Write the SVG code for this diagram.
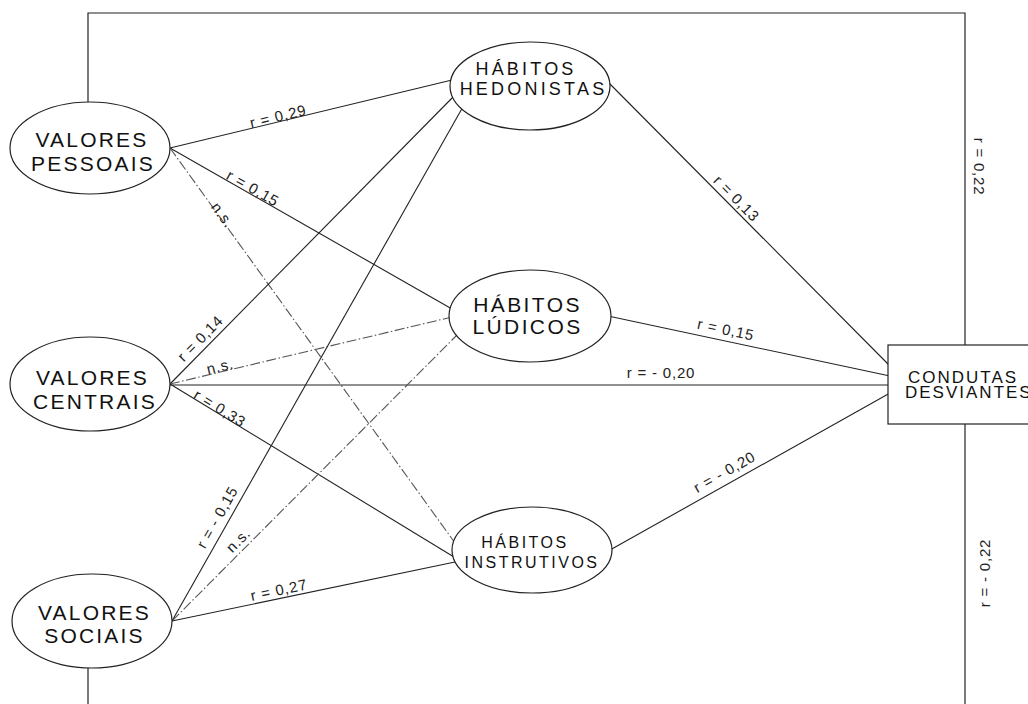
<svg xmlns="http://www.w3.org/2000/svg" width="1028" height="704" viewBox="0 0 1028 704">
<style>
.frame{stroke:#222;stroke-width:1.2;fill:none}
.edge{stroke:#222;stroke-width:1.1;fill:none}
.ns{stroke:#555;stroke-width:1.1;fill:none;stroke-dasharray:10 2.5 1.5 2.5}
.node{fill:#fff;stroke:#222;stroke-width:1.2}
.lbl{font-family:"Liberation Sans",Arial,sans-serif;font-size:15px;letter-spacing:0.8px;fill:#222;text-anchor:middle;dominant-baseline:central}
.t{font-family:"Liberation Sans",Arial,sans-serif;fill:#111;text-anchor:middle}
.big{font-size:21px;letter-spacing:2.2px}
</style>
<g id="connectors">
  <polyline class="frame" points="88,102 88,13 965,13 965,345"/>
  <line class="frame" x1="965" y1="424" x2="965" y2="704"/>
  <line class="frame" x1="88" y1="668" x2="88" y2="704"/>
  <line class="edge" x1="170" y1="148" x2="452" y2="80"/>
  <line class="edge" x1="170" y1="148" x2="452" y2="309"/>
  <line class="ns" x1="170" y1="148" x2="455" y2="543"/>
  <line class="edge" x1="170" y1="384" x2="457" y2="93"/>
  <line class="ns" x1="170" y1="384" x2="452" y2="317"/>
  <line class="edge" x1="170" y1="385" x2="890" y2="385"/>
  <line class="edge" x1="170" y1="384" x2="454" y2="557"/>
  <line class="edge" x1="172" y1="621" x2="464" y2="105"/>
  <line class="ns" x1="172" y1="621" x2="458" y2="334"/>
  <line class="edge" x1="172" y1="621" x2="455" y2="562"/>
  <line class="edge" x1="608" y1="82" x2="890" y2="366"/>
  <line class="edge" x1="608" y1="316" x2="890" y2="376"/>
  <line class="edge" x1="610" y1="550" x2="890" y2="393"/>
  <g>
    <text class="lbl" transform="translate(279.4,121.5) rotate(-13.65)" y="-5.6">r = 0,29</text>
    <text class="lbl" transform="translate(249.7,193.7) rotate(29.83)" y="-6.6">r = 0,15</text>
    <text class="lbl" transform="translate(219.9,217.2) rotate(54.18)" y="-3.8">n.s.</text>
    <text class="lbl" transform="translate(207.8,345.7) rotate(-45.4)" y="-10.9">r = 0,14</text>
    <text class="lbl" transform="translate(227.4,523) rotate(-60.5)" y="-12">r = - 0,15</text>
    <text class="lbl" transform="translate(221.4,371.9) rotate(-13.3)" y="-6">n.s.</text>
    <text class="lbl" transform="translate(661,385)" y="-12.5">r = - 0,20</text>
    <text class="lbl" transform="translate(217.1,412.8) rotate(31.5)" y="-5.6">r = 0,33</text>
    <text class="lbl" transform="translate(245.4,547.4) rotate(-45.1)" y="-10.5">n.s.</text>
    <text class="lbl" transform="translate(280.6,598.5) rotate(-11.7)" y="-9">r = 0,27</text>
    <text class="lbl" transform="translate(729.6,205.3) rotate(45.4)" y="-10">r = 0,13</text>
    <text class="lbl" transform="translate(723.5,340.5) rotate(12.18)" y="-11.5">r = 0,15</text>
    <text class="lbl" transform="translate(730.4,482.6) rotate(-29.3)" y="-12.5">r = - 0,20</text>
    <text class="lbl" transform="translate(979,166.5) rotate(90)">r = 0,22</text>
    <text class="lbl" transform="translate(984,573) rotate(-90)">r = - 0,22</text>
  </g>
</g>
<g id="valores-pessoais">
  <ellipse class="node" cx="90" cy="148" rx="80" ry="46"/>
  <text class="t big" x="92" y="147">VALORES</text>
  <text class="t big" x="93" y="171">PESSOAIS</text>
</g>
<g id="valores-centrais">
  <ellipse class="node" cx="90" cy="384" rx="80" ry="47"/>
  <text class="t big" x="92.5" y="385">VALORES</text>
  <text class="t big" x="95" y="408.5">CENTRAIS</text>
</g>
<g id="valores-sociais">
  <ellipse class="node" cx="92" cy="621" rx="80" ry="47"/>
  <text class="t big" x="94.5" y="620">VALORES</text>
  <text class="t big" x="94.5" y="643">SOCIAIS</text>
</g>
<g id="habitos-hedonistas">
  <ellipse class="node" cx="530" cy="86" rx="80" ry="44"/>
  <text class="t" x="526" y="75" style="font-size:18px;letter-spacing:3.2px">HÁBITOS</text>
  <text class="t" x="533.5" y="95" style="font-size:18px;letter-spacing:3.2px">HEDONISTAS</text>
</g>
<g id="habitos-ludicos">
  <ellipse class="node" cx="530" cy="316" rx="81" ry="46"/>
  <text class="t" x="527.5" y="312" style="font-size:21px;letter-spacing:2.4px">HÁBITOS</text>
  <text class="t" x="527.5" y="334" style="font-size:21px;letter-spacing:2.4px">LÚDICOS</text>
</g>
<g id="habitos-instrutivos">
  <ellipse class="node" cx="532" cy="550" rx="80" ry="43"/>
  <text class="t" x="525" y="548" style="font-size:16px;letter-spacing:2.5px">HÁBITOS</text>
  <text class="t" x="532" y="568" style="font-size:16px;letter-spacing:2.5px">INSTRUTIVOS</text>
</g>
<g id="condutas-desviantes">
  <rect class="node" x="888" y="345" width="170" height="79"/>
  <text class="t" x="908" y="383" style="font-size:17px;letter-spacing:2px;text-anchor:start">CONDUTAS</text>
  <text class="t" x="905" y="398" style="font-size:17px;letter-spacing:2px;text-anchor:start">DESVIANTES</text>
</g>
</svg>
